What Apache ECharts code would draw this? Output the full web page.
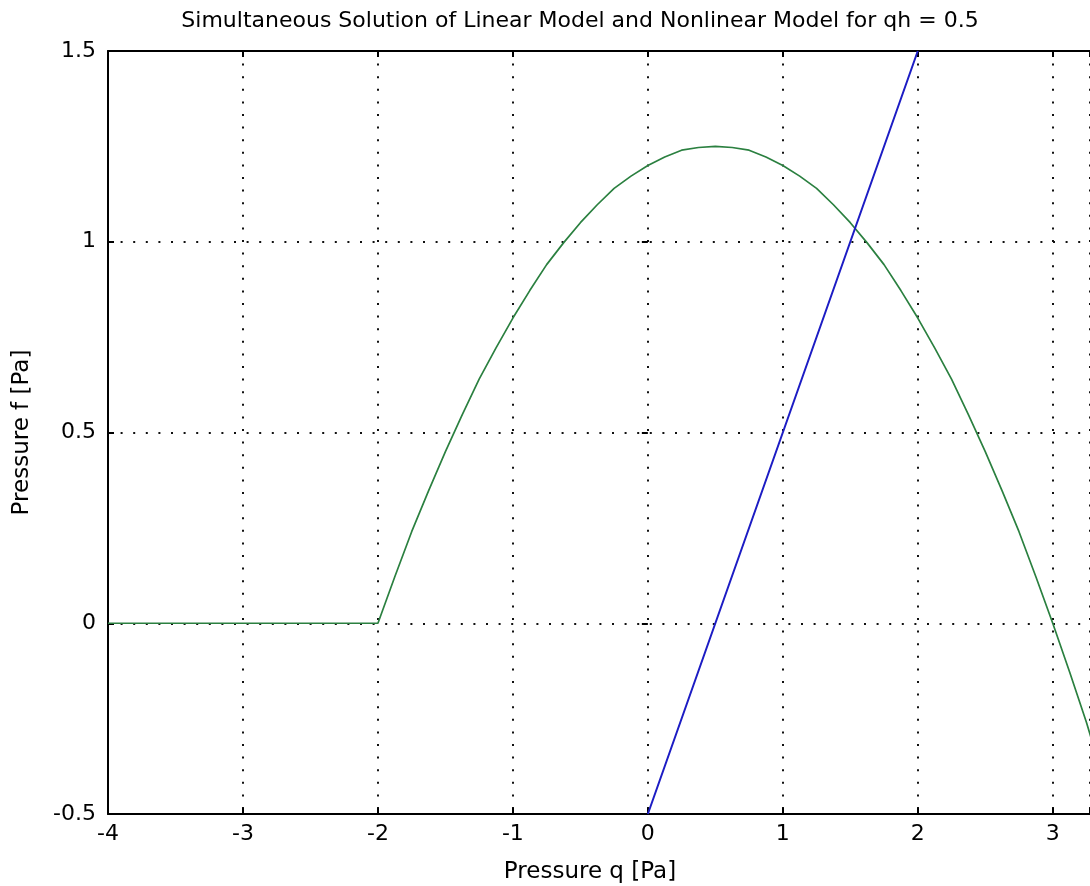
<!DOCTYPE html>
<html>
<head>
<meta charset="utf-8">
<script src="https://cdn.jsdelivr.net/npm/echarts@6/dist/echarts.min.js"></script>
<style>
    html, body { margin: 0; padding: 0; background: #fff; }
    #chart { width: 1090px; height: 886px; }
</style>
</head>
<body>
<div id="chart"></div>
<script>
// values
var titleText = 'Simultaneous Solution of Linear Model and Nonlinear Model for qh = 0.5'
var xName = 'Pressure q [Pa]'
var yName = 'Pressure f [Pa]'

// nonlinear model (green): flat at 0 up to q = -2, then an arch peaking at q = 0.5
var qNonlinear = [-4, -2, -1.875, -1.75, -1.625, -1.5, -1.375, -1.25, -1.125, -1, -0.875, -0.75, -0.625,
    -0.5, -0.375, -0.25, -0.125, 0, 0.125, 0.25, 0.375, 0.5, 0.625, 0.75, 0.875, 1, 1.125, 1.25,
    1.375, 1.5, 1.625, 1.75, 1.875, 2, 2.125, 2.25, 2.375, 2.5, 2.625, 2.75, 2.875, 3, 3.125, 3.25, 3.3]
var fNonlinear = [0, 0, 0.122, 0.24, 0.347, 0.45, 0.547, 0.64, 0.722, 0.80, 0.872, 0.94, 0.997,
    1.05, 1.097, 1.14, 1.172, 1.20, 1.222, 1.24, 1.247, 1.25, 1.247, 1.24, 1.222, 1.20, 1.172, 1.14,
    1.097, 1.05, 0.997, 0.94, 0.872, 0.80, 0.722, 0.64, 0.547, 0.45, 0.347, 0.24, 0.122, 0, -0.128, -0.26, -0.32]

// linear model (blue)
var qLinear = [0, 1, 2]
var fLinear = [-0.5, 0.5, 1.5]

// the picture is cut off on the right, a bit past q = 3
var xMin = -4, xMax = 3.276, xStep = 1
var yMin = -0.5, yMax = 1.5, yStep = 0.5

function pairs(xs, ys) {
    return xs.map(function (x, i) { return [x, ys[i]] })
}

var font = '"DejaVu Sans", Verdana, sans-serif'
var gridLine = { show: true, lineStyle: { color: '#111', width: 2, type: [2, 10.6] } }
var tick = { show: true, inside: true, length: 6, lineStyle: { color: '#000', width: 2 } }

var chart = echarts.init(document.getElementById('chart'), null, { renderer: 'canvas' })
chart.setOption({
    animation: false,
    backgroundColor: '#fff',
    graphic: [
        {
            type: 'text',
            x: 580,
            y: 21,
            style: {
                text: titleText,
                fill: '#000',
                font: '22px ' + font,
                textAlign: 'center',
                textVerticalAlign: 'middle'
            }
        }
    ],
    grid: {
        left: 108,
        top: 51,
        right: 0,
        height: 763,
        outerBoundsMode: 'none'
    },
    xAxis: [
        {
            type: 'value',
            min: xMin,
            max: xMax,
            interval: xStep,
            name: xName,
            nameLocation: 'middle',
            nameGap: 47,
            nameTextStyle: { color: '#000', fontSize: 23, fontFamily: font, padding: [0, 18, 0, 0] },
            axisLine: { show: true, onZero: false, lineStyle: { color: '#000', width: 2 } },
            axisTick: tick,
            axisLabel: {
                color: '#000', fontSize: 22, fontFamily: font, margin: 9,
                formatter: function (v) { return Number.isInteger(v) ? String(v) : '' }
            },
            splitLine: gridLine
        },
        {
            type: 'value',
            position: 'top',
            min: xMin,
            max: xMax,
            interval: xStep,
            axisLine: { show: true, onZero: false, lineStyle: { color: '#000', width: 2 } },
            axisTick: tick,
            axisLabel: { show: false },
            splitLine: { show: false }
        }
    ],
    yAxis: [
        {
            type: 'value',
            min: yMin,
            max: yMax,
            interval: yStep,
            name: yName,
            nameLocation: 'middle',
            nameGap: 74,
            nameTextStyle: { color: '#000', fontSize: 23, fontFamily: font },
            axisLine: { show: true, onZero: false, lineStyle: { color: '#000', width: 2 } },
            axisTick: tick,
            axisLabel: { color: '#000', fontSize: 22, fontFamily: font, margin: 12 },
            splitLine: gridLine
        },
        {
            type: 'value',
            position: 'right',
            min: yMin,
            max: yMax,
            interval: yStep,
            axisLine: { show: false },
            axisTick: tick,
            axisLabel: { show: false },
            splitLine: { show: false }
        }
    ],
    series: [
        {
            name: 'Nonlinear',
            type: 'line',
            data: pairs(qNonlinear, fNonlinear),
            showSymbol: false,
            lineStyle: { color: '#2b8040', width: 1.7 },
            z: 3
        },
        {
            name: 'Linear',
            type: 'line',
            data: pairs(qLinear, fLinear),
            showSymbol: false,
            lineStyle: { color: '#1c1cc4', width: 2 },
            z: 4
        }
    ]
})
</script>
</body>
</html>
